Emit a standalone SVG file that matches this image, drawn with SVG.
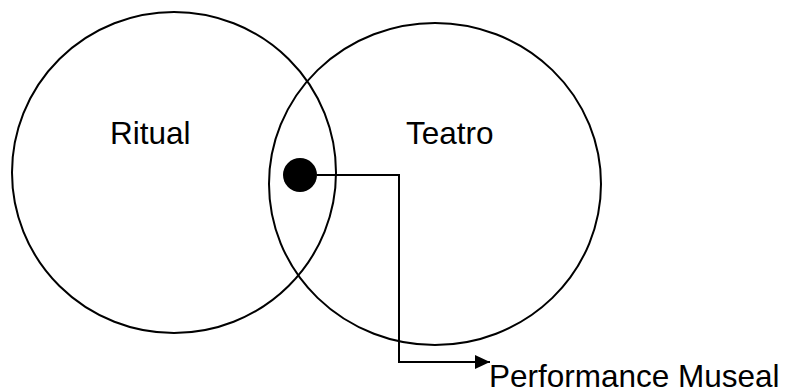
<svg xmlns="http://www.w3.org/2000/svg" width="785" height="389" viewBox="0 0 785 389">
  <style>
    .ring { fill: none; stroke: #000; stroke-width: 2; }
    .label { font-family: "Liberation Sans", Arial, sans-serif; font-size: 31.5px; fill: #000; }
    .link { fill: none; stroke: #000; stroke-width: 2; }
  </style>
  <defs>
    <marker id="arrow" markerUnits="userSpaceOnUse" markerWidth="16" markerHeight="16" refX="15" refY="7" orient="auto">
      <path d="M0,0 L15,7 L0,14 Z" fill="#000"/>
    </marker>
  </defs>
  <rect width="785" height="389" fill="#fff"/>
  <g id="ritual">
    <ellipse class="ring" cx="174" cy="172.5" rx="162" ry="160.5"/>
    <text class="label" x="110" y="144">Ritual</text>
  </g>
  <g id="teatro">
    <ellipse class="ring" cx="435" cy="184" rx="166" ry="161"/>
    <text class="label" x="406" y="144">Teatro</text>
  </g>
  <g id="punto">
    <circle cx="300" cy="175" r="17" fill="#000"/>
  </g>
  <g id="connectors">
    <polyline class="link" points="317,175 399,175 399,362 490,362" marker-end="url(#arrow)"/>
  </g>
  <g id="performance-museal">
    <text class="label" x="489" y="387" font-size="32.3">Performance Museal</text>
  </g>
</svg>
